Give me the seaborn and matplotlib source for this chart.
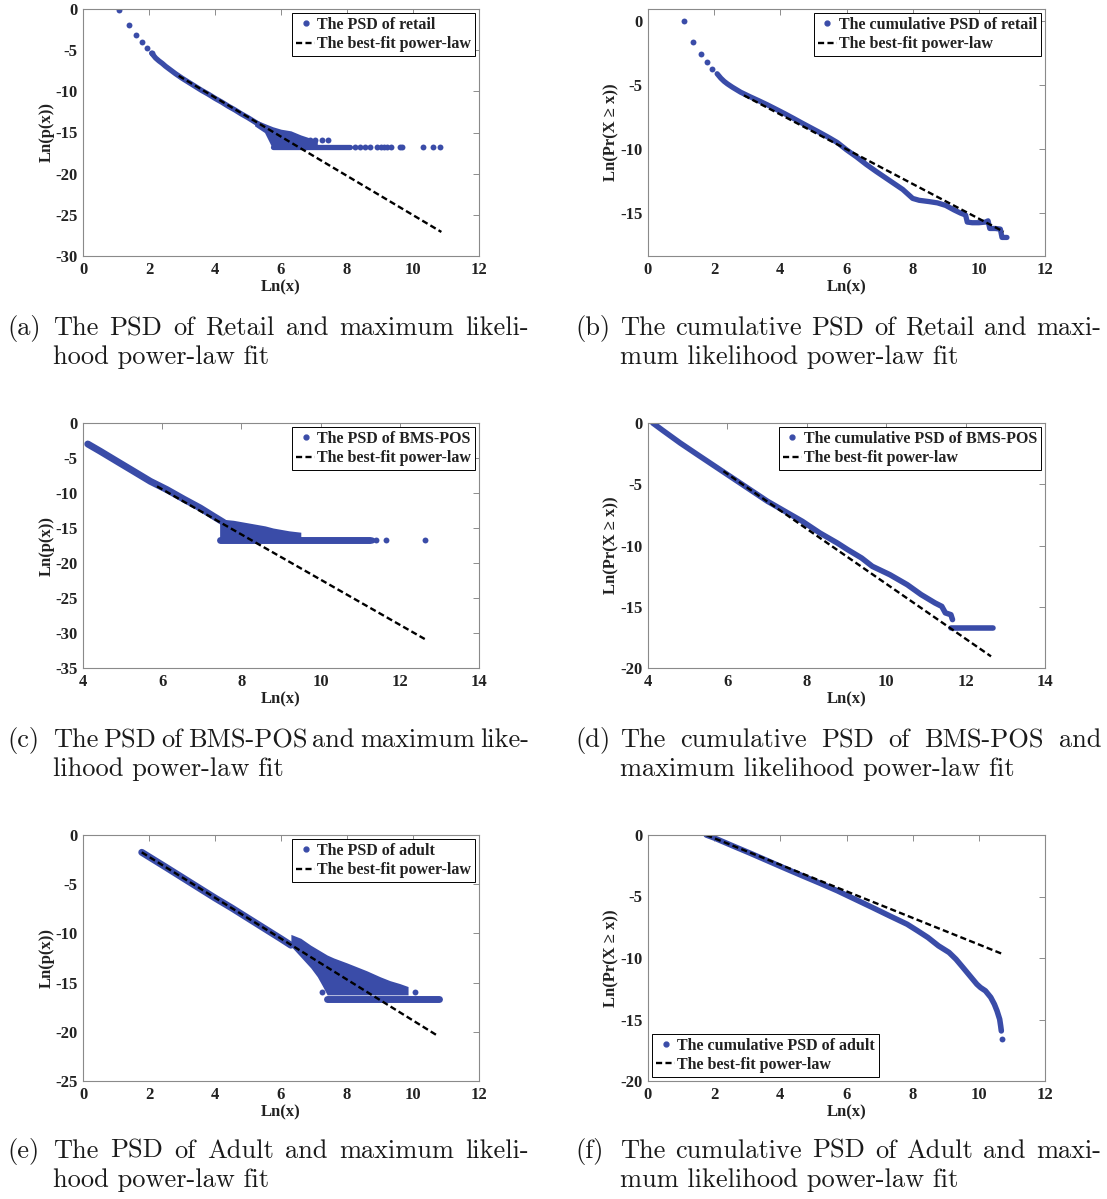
import numpy as np
import pandas as pd
import seaborn as sns
import matplotlib.pyplot as plt
from matplotlib.lines import Line2D

# ---------------- data ----------------
# (a) PSD of retail
a_dot_x = [1.10, 1.39, 1.61, 1.79, 1.95, 2.08, 6.88, 7.03, 7.23, 7.43,
           8.24, 8.39, 8.55, 8.70, 8.90, 9.02, 9.12, 9.22, 9.32, 9.62, 9.67, 10.30, 10.62, 10.82]
a_dot_y = [-0.1, -1.95, -3.2, -4.0, -4.75, -5.36, -15.9, -15.9, -15.9, -15.9,
           -16.73, -16.73, -16.73, -16.73, -16.73, -16.73, -16.73, -16.73, -16.73, -16.73, -16.73,
           -16.73, -16.73, -16.73]
a_curve_x = [2.08, 2.2, 2.3, 2.4, 2.5, 2.6, 2.7, 2.8, 3.0, 3.2, 3.4, 3.6, 3.8, 4.0, 4.2, 4.4,
             4.6, 4.8, 5.0, 5.2, 5.4]
a_curve_y = [-5.36, -5.95, -6.3, -6.6, -6.95, -7.25, -7.55, -7.85, -8.4, -8.9, -9.4, -9.9,
             -10.35, -10.85, -11.3, -11.8, -12.25, -12.75, -13.2, -13.7, -14.2]
a_cloud_x = [5.2, 5.5, 5.75, 6.0, 6.3, 6.6, 6.9, 7.1]
a_cloud_top = [-13.4, -13.9, -14.3, -14.6, -14.8, -15.3, -15.7, -15.8]
a_cloud_bot = [-14.2, -15.0, -17.0, -17.0, -17.0, -17.0, -17.0, -17.0]
a_row_y, a_row_x0, a_row_x1 = [-16.73], [5.75], [8.10]
a_fit_x, a_fit_y = [2.9, 10.86], [-8.12, -27.08]

# (b) cumulative PSD of retail
b_dot_x = [1.08, 1.37, 1.60, 1.79, 1.94]
b_dot_y = [0.0, -1.59, -2.55, -3.23, -3.72]
b_curve_x = [2.09, 2.2, 2.3, 2.4, 2.55, 2.8, 3.08, 3.35, 3.61, 3.9, 4.14, 4.4, 4.66, 4.9, 5.19,
             5.45, 5.72, 6.0, 6.3, 6.6, 6.9, 7.3, 7.7, 8.0, 8.2, 8.5, 8.75, 9.0, 9.25, 9.45, 9.6,
             9.65, 9.8, 10.0, 10.2, 10.28, 10.33, 10.5, 10.65, 10.7, 10.85]
b_curve_y = [-4.11, -4.45, -4.7, -4.9, -5.16, -5.55, -5.9, -6.22, -6.54, -6.92, -7.24, -7.6,
             -7.97, -8.3, -8.70, -9.07, -9.48, -10.05, -10.6, -11.2, -11.75, -12.45, -13.15,
             -13.85, -14.0, -14.1, -14.2, -14.4, -14.75, -15.0, -15.15, -15.7, -15.75, -15.75,
             -15.7, -15.6, -16.2, -16.2, -16.25, -16.9, -16.9]
b_fit_x, b_fit_y = [2.9, 10.75], [-5.8, -16.45]

# (c) PSD of BMS-POS
c_dot_x = [11.30, 11.41, 11.66, 12.63]
c_dot_y = [-16.67, -16.67, -16.67, -16.67]
c_curve_x = [4.12, 4.44, 4.86, 5.28, 5.70, 6.12, 6.54, 6.96, 7.29, 7.55]
c_curve_y = [-3.0, -4.05, -5.48, -6.9, -8.33, -9.52, -10.86, -12.14, -13.3, -14.2]
c_cloud_x = [7.45, 7.8, 8.2, 8.6, 8.8, 9.2, 9.5]
c_cloud_top = [-13.7, -13.9, -14.3, -14.7, -15.0, -15.4, -15.6]
c_cloud_bot = [-17.0, -17.0, -17.0, -17.0, -17.0, -17.0, -17.0]
c_row_y, c_row_x0, c_row_x1 = [-16.67], [7.45], [11.25]
c_fit_x, c_fit_y = [5.87, 12.63], [-9.05, -30.86]

# (d) cumulative PSD of BMS-POS
d_curve_x = [4.12, 4.37, 4.81, 5.25, 5.69, 6.13, 6.57, 7.01, 7.45, 7.89, 8.33, 8.77, 9.03, 9.38,
             9.65, 10.09, 10.53, 10.88, 11.23, 11.4, 11.49, 11.63, 11.67]
d_curve_y = [0.0, -0.6, -1.63, -2.59, -3.54, -4.49, -5.44, -6.39, -7.21, -8.03, -8.98, -9.8,
             -10.34, -11.02, -11.7, -12.38, -13.2, -14.01, -14.69, -14.97, -15.5, -15.65, -16.05]
d_row_y, d_row_x0, d_row_x1 = [-16.73], [11.63], [12.68]
d_fit_x, d_fit_y = [5.9, 12.64], [-3.93, -19.05]

# (e) PSD of adult
e_dot_x = [7.23, 9.72, 10.07]
e_dot_y = [-15.92, -15.9, -15.92]
e_curve_x = [1.78, 2.5, 3.0, 3.5, 4.0, 4.5, 5.0, 5.5, 6.0, 6.3]
e_curve_y = [-1.76, -3.25, -4.3, -5.35, -6.4, -7.4, -8.45, -9.5, -10.55, -11.2]
e_cloud_x = [6.3, 6.6, 6.9, 7.1, 7.25, 7.4, 7.6, 8.0, 8.3, 8.6, 9.0, 9.3, 9.6, 9.85]
e_cloud_top = [-10.1, -10.5, -11.2, -11.6, -11.9, -12.2, -12.5, -13.0, -13.4, -13.8, -14.4,
               -14.8, -15.1, -15.4]
e_cloud_bot = [-11.3, -12.4, -13.5, -14.4, -15.3, -16.25, -16.25, -16.25, -16.25, -16.25,
               -16.25, -16.25, -16.25, -16.25]
e_row_y, e_row_x0, e_row_x1 = [-16.67], [7.4], [10.8]
e_fit_x, e_fit_y = [1.78, 10.76], [-1.76, -20.43]

# (f) cumulative PSD of adult
f_dot_x, f_dot_y = [10.70], [-16.61]
f_curve_x = [1.76, 2.03, 2.55, 3.08, 3.61, 4.14, 4.66, 5.19, 5.72, 6.25, 6.78, 7.30, 7.83, 8.15,
             8.46, 8.78, 9.1, 9.31, 9.52, 9.73, 9.94, 10.05, 10.2, 10.36, 10.47, 10.55, 10.63,
             10.66, 10.68]
f_curve_y = [0.0, -0.27, -0.87, -1.47, -2.09, -2.71, -3.31, -3.91, -4.53, -5.21, -5.89, -6.57,
             -7.25, -7.79, -8.33, -9.01, -9.55, -10.1, -10.77, -11.45, -12.13, -12.4, -12.67,
             -13.2, -13.76, -14.3, -14.98, -15.52, -15.93]
f_fit_x, f_fit_y = [1.76, 10.73], [0.0, -9.69]

legend_psd = ["The PSD of retail", "The cumulative PSD of retail", "The PSD of BMS-POS",
              "The cumulative PSD of BMS-POS", "The PSD of adult", "The cumulative PSD of adult"]
fit_label = "The best-fit power-law"
ylabels = ["Ln(p(x))", "Ln(Pr(X \u2265 x))"] * 3
captions = [
    ("(a)", "The PSD of Retail and maximum likeli-", "hood power-law fit"),
    ("(b)", "The cumulative PSD of Retail and maxi-", "mum likelihood power-law fit"),
    ("(c)", "The PSD of BMS-POS and maximum like-", "lihood power-law fit"),
    ("(d)", "The cumulative PSD of BMS-POS and", "maximum likelihood power-law fit"),
    ("(e)", "The PSD of Adult and maximum likeli-", "hood power-law fit"),
    ("(f)", "The cumulative PSD of Adult and maxi-", "mum likelihood power-law fit"),
]

# ---------------- style ----------------
sns.set_theme(style="white")
SERIF = ["Liberation Serif", "DejaVu Serif"]
plt.rcParams["font.family"] = SERIF
plt.rcParams["font.weight"] = "bold"
plt.rcParams["axes.unicode_minus"] = False

BLUE = "#3a4ca8"
DASH = (0, (2.6, 1.4))
FS = 12
W, H = 1107, 1199
fig = plt.figure(figsize=(W / 100, H / 100), dpi=100)

cols = [(83, 479), (648, 1045)]
rows = [(9, 256), (423, 668), (835, 1081)]
xlims = [(0, 12), (0, 12), (4, 14), (4, 14), (0, 12), (0, 12)]
ylims = [(-30, 0), (-18.35, 0.95), (-35, 0), (-20, 0), (-25, 0), (-20, 0)]
xticks = [range(0, 13, 2), range(0, 13, 2), range(4, 15, 2), range(4, 15, 2),
          range(0, 13, 2), range(0, 13, 2)]
yticks = [range(-30, 1, 5), range(-15, 1, 5), range(-35, 1, 5), range(-20, 1, 5),
          range(-25, 1, 5), range(-20, 1, 5)]

panels = [
    dict(dx=a_dot_x, dy=a_dot_y, cx=a_curve_x, cy=a_curve_y, fx=a_fit_x, fy=a_fit_y,
         cl=(a_cloud_x, a_cloud_top, a_cloud_bot), rw=(a_row_y, a_row_x0, a_row_x1), lw=3.8),
    dict(dx=b_dot_x, dy=b_dot_y, cx=b_curve_x, cy=b_curve_y, fx=b_fit_x, fy=b_fit_y, lw=3.8),
    dict(dx=c_dot_x, dy=c_dot_y, cx=c_curve_x, cy=c_curve_y, fx=c_fit_x, fy=c_fit_y,
         cl=(c_cloud_x, c_cloud_top, c_cloud_bot), rw=(c_row_y, c_row_x0, c_row_x1), lw=5.0),
    dict(cx=d_curve_x, cy=d_curve_y, fx=d_fit_x, fy=d_fit_y,
         rw=(d_row_y, d_row_x0, d_row_x1), lw=4.0),
    dict(dx=e_dot_x, dy=e_dot_y, cx=e_curve_x, cy=e_curve_y, fx=e_fit_x, fy=e_fit_y,
         cl=(e_cloud_x, e_cloud_top, e_cloud_bot), rw=(e_row_y, e_row_x0, e_row_x1), lw=5.0),
    dict(dx=f_dot_x, dy=f_dot_y, cx=f_curve_x, cy=f_curve_y, fx=f_fit_x, fy=f_fit_y, lw=4.0),
]

for i, p in enumerate(panels):
    x0, x1 = cols[i % 2]
    y0, y1 = rows[i // 2]
    ax = fig.add_axes([x0 / W, 1 - y1 / H, (x1 - x0) / W, (y1 - y0) / H])

    if "cl" in p:
        ax.fill_between(p["cl"][0], p["cl"][1], p["cl"][2], color=BLUE, lw=0)
    if "rw" in p:
        hl = ax.hlines(p["rw"][0], p["rw"][1], p["rw"][2], color=BLUE, lw=p["lw"])
        hl.set_capstyle("round")
    sns.lineplot(x=p["cx"], y=p["cy"], sort=False, estimator=None, color=BLUE, lw=p["lw"],
                 solid_capstyle="round", solid_joinstyle="round", ax=ax)
    if "dx" in p:
        sns.scatterplot(x=p["dx"], y=p["dy"], color=BLUE, s=18, linewidth=0, ax=ax)
    sns.lineplot(x=p["fx"], y=p["fy"], color="black", lw=1.7, linestyle=DASH, ax=ax)

    ax.set_xlim(*xlims[i])
    ax.set_ylim(*ylims[i])
    ax.set_xticks(list(xticks[i]))
    ax.set_yticks(list(yticks[i]))
    ax.tick_params(direction="in", length=4, width=0.6, color="#7a7a7a", top=True, right=True,
                   labelsize=FS, pad=4, labelcolor="#222222")
    for s in ax.spines.values():
        s.set_color("#8a8a8a")
        s.set_linewidth(0.8)
    ax.set_xlabel("Ln(x)", fontsize=FS, fontweight="bold", labelpad=1, color="#222222")
    ax.set_ylabel(ylabels[i], fontsize=FS, fontweight="bold", labelpad=0.5, color="#222222")

    handles = [Line2D([], [], marker="o", ms=3.5, color=BLUE, ls="none"),
               Line2D([], [], color="black", lw=1.7, linestyle=DASH)]
    leg = ax.legend(handles, [legend_psd[i], fit_label],
                    loc="lower left" if i == 5 else "upper right",
                    frameon=True, fancybox=False, framealpha=1, edgecolor="black",
                    handlelength=1.2, handletextpad=0.12, borderpad=0.25, labelspacing=0.2,
                    borderaxespad=0.25, prop=dict(family=SERIF, weight="bold", size=11.5))
    leg.get_frame().set_linewidth(0.7)
    for t in leg.get_texts():
        t.set_color("#222222")

# ---------------- justified captions ----------------
renderer = fig.canvas.get_renderer()
cap_kw = dict(family="cmr10", weight="normal", fontsize=19, va="baseline", ha="left",
              color="#1a1a1a")
cap_cols = [(7, 53, 529), (575, 620, 1101)]
cap_base = [335, 747, 1158]
LINE_GAP = 29

for i, (lab, line1, line2) in enumerate(captions):
    lx, tx0, tx1 = cap_cols[i % 2]
    yb = cap_base[i // 2]
    fig.text(lx / W, 1 - yb / H, lab, **cap_kw)
    words = line1.split()
    texts = [fig.text(0, 1 - yb / H, w, **cap_kw) for w in words]
    widths = [t.get_window_extent(renderer).width for t in texts]
    gap = (tx1 - tx0 - sum(widths)) / (len(words) - 1)
    xpos = tx0
    for t, w in zip(texts, widths):
        t.set_x(xpos / W)
        xpos += w + gap
    fig.text(tx0 / W, 1 - (yb + LINE_GAP) / H, line2, **cap_kw)

fig.savefig("out.png", dpi=100)
